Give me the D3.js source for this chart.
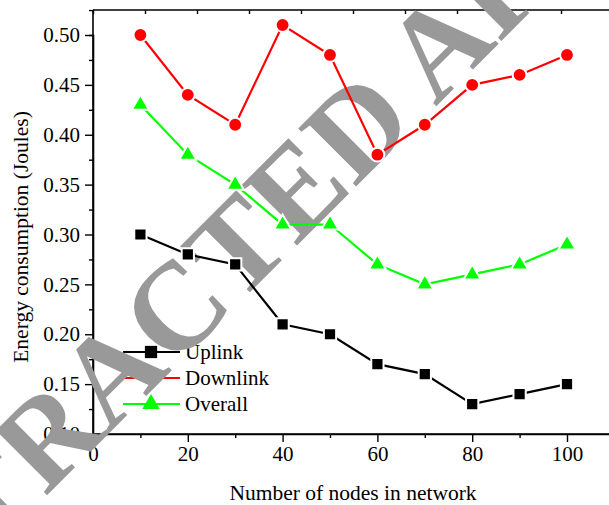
<!DOCTYPE html>
<html>
<head>
    <style>
        body { margin: 0; background: #fff; }
        svg { display: block; font-family: "Liberation Serif", "Times New Roman", serif; }
    </style>
</head>
<body>
    <svg width="609" height="505"></svg>

    <script src="https://d3js.org/d3.v7.min.js"></script>
    <script>
        // data
        const nodes = [10, 20, 30, 40, 50, 60, 70, 80, 90, 100];
        const uplink = [0.30, 0.28, 0.27, 0.21, 0.20, 0.17, 0.16, 0.13, 0.14, 0.15];
        const downlink = [0.50, 0.44, 0.41, 0.51, 0.48, 0.38, 0.41, 0.45, 0.46, 0.48];
        const overall = [0.43, 0.38, 0.35, 0.31, 0.31, 0.27, 0.25, 0.26, 0.27, 0.29];
        const seriesNames = ["Uplink", "Downlink", "Overall"];
        const xTicks = [0, 20, 40, 60, 80, 100];
        const yTicks = [0.10, 0.15, 0.20, 0.25, 0.30, 0.35, 0.40, 0.45, 0.50];

        const svg = d3.select("svg");

        const x = d3.scaleLinear().domain([0, 110]).range([93, 614.4]);
        const y = d3.scaleLinear().domain([0.10, 0.50]).range([434, 35]);
        const xTop = d3.scaleLinear().domain([0, 100]).range([93, 613]);

        const series = [
            { name: seriesNames[0], values: uplink, color: "#000000", symbol: d3.symbolSquare, size: 150 },
            { name: seriesNames[1], values: downlink, color: "#ff0000", symbol: d3.symbolCircle, size: 150 },
            { name: seriesNames[2], values: overall, color: "#00ff00", symbol: d3.symbolTriangle, size: 130 }
        ];

        const axisStyle = g => {
            g.select(".domain").attr("stroke", "#000").attr("stroke-width", 1.6);
            g.selectAll(".tick line").attr("stroke", "#000").attr("stroke-width", 1.4);
            g.selectAll("text").attr("font-size", 21).attr("font-family", "Liberation Serif").attr("fill", "#000");
        };

        // minor ticks
        svg.append("g")
            .attr("transform", "translate(0,434)")
            .call(d3.axisBottom(x).tickValues(d3.range(10, 111, 20)).tickSize(4).tickFormat(""))
            .call(axisStyle);
        svg.append("g")
            .attr("transform", "translate(93,0)")
            .call(d3.axisLeft(y).tickValues(d3.range(0.125, 0.53, 0.05)).tickSize(4).tickFormat(""))
            .call(axisStyle);

        const xAxis = svg.append("g")
            .attr("transform", "translate(0,434)")
            .call(d3.axisBottom(x).tickValues(xTicks).tickSize(8).tickPadding(4).tickFormat(d3.format("d")))
            .call(axisStyle);
        xAxis.select(".domain").attr("d", "M93,0H609");

        const yAxis = svg.append("g")
            .attr("transform", "translate(93,0)")
            .call(d3.axisLeft(y).tickValues(yTicks).tickSize(8).tickPadding(5).tickFormat(d3.format(".2f")))
            .call(axisStyle);
        yAxis.select(".domain").attr("d", "M0,434V10");

        const topAxis = svg.append("g")
            .attr("transform", "translate(0,10)")
            .call(d3.axisTop(xTop).ticks(10).tickSize(-4).tickFormat(""))
            .call(axisStyle);
        topAxis.select(".domain").attr("d", "M93,0H609");

        // axis titles
        svg.append("text")
            .attr("x", 353).attr("y", 500)
            .attr("text-anchor", "middle")
            .attr("font-size", 21.5)
            .text("Number of nodes in network");
        svg.append("text")
            .attr("transform", "translate(28,237) rotate(-90)")
            .attr("text-anchor", "middle")
            .attr("font-size", 21.5)
            .text("Energy consumption (Joules)");

        // legend
        const legend = svg.append("g");
        series.forEach((s, i) => {
            const ly = 352 + i * 26;
            legend.append("line")
                .attr("x1", 123).attr("x2", 180)
                .attr("y1", ly).attr("y2", ly)
                .attr("stroke", s.color).attr("stroke-width", 2.2);
            legend.append("path")
                .attr("transform", `translate(151,${ly})`)
                .attr("d", d3.symbol(s.symbol, s.size))
                .attr("fill", s.color);
            legend.append("text")
                .attr("x", 185).attr("y", ly)
                .attr("dy", "0.35em")
                .attr("font-size", 21)
                .text(s.name);
        });

        // watermark (sits over axes and legend, under the data)
        svg.append("text")
            .attr("transform", "translate(320,164) rotate(-45)")
            .attr("text-anchor", "middle")
            .attr("dy", "0.33em")
            .attr("font-size", 125)
            .attr("font-weight", "bold")
            .attr("font-family", "Liberation Serif")
            .attr("fill", "#999999")
            .text("RETRACTED ARTICLE");

        // lines and markers
        const line = d3.line().x(d => x(d[0])).y(d => y(d[1]));
        series.forEach(s => {
            const pts = nodes.map((n, i) => [n, s.values[i]]);
            svg.append("path")
                .datum(pts)
                .attr("fill", "none")
                .attr("stroke", s.color)
                .attr("stroke-width", 2.2)
                .attr("d", line);
            svg.append("g")
                .selectAll("path")
                .data(pts)
                .join("path")
                .attr("transform", d => `translate(${x(d[0])},${y(d[1])})`)
                .attr("d", d3.symbol(s.symbol, s.size))
                .attr("fill", s.color)
                .attr("stroke", "#fff")
                .attr("stroke-width", 2);
        });
    </script>
</body>
</html>
